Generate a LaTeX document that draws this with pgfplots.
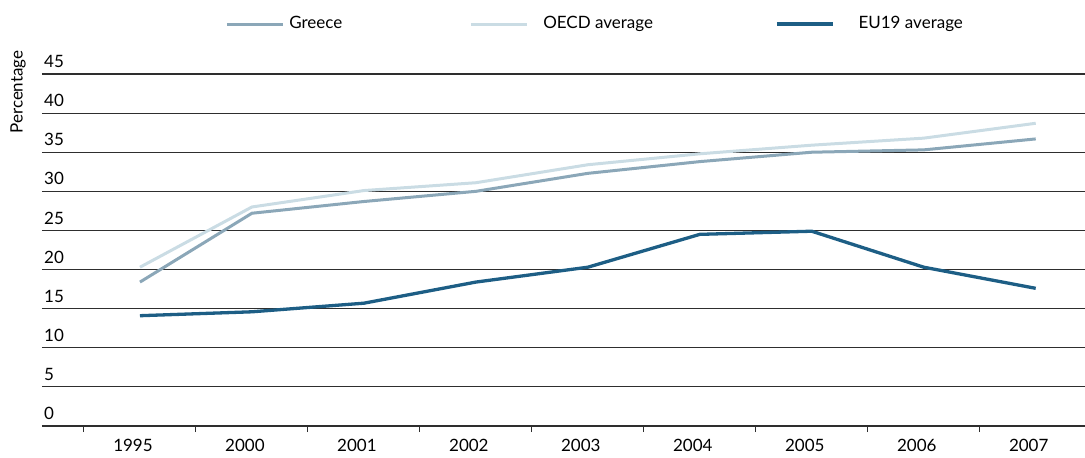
\documentclass[border=0pt]{standalone}
\usepackage{pgfplots}
\pgfplotsset{compat=1.18}
\usepackage{fontspec}
\setmainfont{Lato}
\definecolor{greece}{HTML}{8BA7B8}
\definecolor{oecd}{HTML}{CADCE4}
\definecolor{eu}{HTML}{1D5E85}
\definecolor{gridc}{HTML}{2E2E2E}
\begin{document}
\begin{tikzpicture}
\fontsize{17}{20}\selectfont
\begin{axis}[
  name=ax,
  at={(0,0)}, anchor=south west,
  scale only axis,
  width=1043pt, height=352pt,
  xmin=-0.875, xmax=8.44,
  ymin=0, ymax=45,
  ytick={0,5,...,45},
  xtick={0,...,8},
  xticklabels={1995,2000,2001,2002,2003,2004,2005,2006,2007},
  minor xtick={-0.5,0.5,...,7.5},
  xtick pos=bottom,
  ytick pos=left,
  tick align=outside,
  major tick length=0pt,
  minor tick length=6pt,
  minor tick style={gridc, line width=1pt},
  axis line style={draw=none},
  ymajorgrids,
  major grid style={gridc, line width=1.2pt},
  /pgf/number format/assume math mode=true,
  ticklabel style={font=\fontsize{17}{20}\selectfont},
  yticklabel style={anchor=south west, inner sep=0pt, xshift=2pt, yshift=6pt},
  xticklabel style={inner sep=0pt, yshift=-13pt, xshift=-7pt},
  legend columns=3,
  legend style={draw=none, fill=none, inner sep=0pt,
    at={(rel axis cs:0.1755,1.142)}, anchor=west,
    nodes={inner sep=0pt},
    /tikz/column sep=0pt,
    /tikz/every even column/.style={column sep=0pt},
    /tikz/every odd column/.style={column sep=0pt},
    font=\fontsize{17}{20}\selectfont},
  legend cell align=left,
  legend image code/.code={\draw[#1] (0pt,0pt) -- (56pt,0pt);},
]
\addplot[greece, line width=3pt] coordinates {
(0,18.4) (1,27.2) (2,28.7) (3,30.0) (4,32.3) (5,33.8) (6,35.0) (7,35.3) (8,36.7)};
\addlegendentry{\hspace{5pt}\makebox[180pt][l]{Greece}}
\addplot[oecd, line width=3pt] coordinates {
(0,20.3) (1,28.0) (2,30.1) (3,31.1) (4,33.4) (5,34.8) (6,35.9) (7,36.8) (8,38.7)};
\addlegendentry{\hspace{15pt}\makebox[232pt][l]{OECD average}}
\addplot[eu, line width=3.3pt] coordinates {
(0,14.1) (1,14.6) (2,15.7) (3,18.4) (4,20.3) (5,24.5) (6,24.9) (7,20.3) (8,17.6)};
\addlegendentry{\hspace{24pt}EU19 average}
\end{axis}
\node[rotate=90, anchor=center, font=\fontsize{17}{20}\selectfont] at (-24pt,334pt) {Percentage};
\pgfresetboundingbox
\path[use as bounding box] (-42pt,-32pt) rectangle (1043pt,426pt);
\end{tikzpicture}
\end{document}
